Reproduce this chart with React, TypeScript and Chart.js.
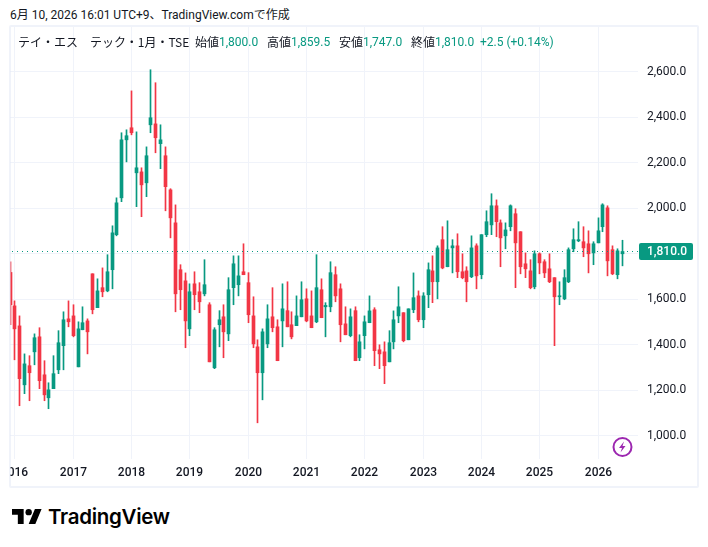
import React, { useEffect, useRef } from "react";
import { Chart, registerables } from "chart.js";

Chart.register(...registerables);

const opens = [1718,1571,1483,1224,1308,1369,1435,1268,1167,1207,1290,1396,1514,1527,1303,1466,1505,1712,1563,1651,1637,1730,1884,2046,2301,2354,2156,2160,2112,2367,2371,2284,2231,2081,1936,1730,1681,1470,1668,1633,1624,1576,1299,1488,1523,1448,1651,1664,1721,1673,1527,1391,1277,1404,1523,1479,1505,1550,1488,1484,1523,1602,1527,1501,1642,1567,1567,1708,1646,1492,1440,1550,1343,1440,1497,1554,1378,1369,1325,1413,1527,1541,1422,1554,1615,1510,1620,1725,1677,1862,1743,1826,1835,1721,1725,1699,1835,1708,1884,1927,2011,1936,1879,1919,1976,1897,1756,1725,1655,1800,1765,1734,1695,1611,1602,1677,1822,1857,1853,1844,1804,1848,1919,2002,1818,1708,1800];
const highs = [1765,1593,1527,1360,1352,1448,1475,1330,1233,1352,1462,1545,1593,1576,1501,1567,1514,1712,1690,1738,1796,1923,2046,2332,2345,2516,2336,2178,2270,2609,2552,2367,2270,2086,2015,1752,1716,1668,1721,1673,1774,1585,1475,1550,1576,1695,1791,1791,1844,1717,1611,1422,1470,1576,1651,1510,1668,1677,1545,1615,1677,1646,1637,1796,1690,1585,1765,1743,1668,1567,1558,1567,1444,1527,1615,1563,1400,1413,1462,1549,1655,1541,1558,1716,1637,1629,1760,1791,1835,1919,1945,1862,1888,1800,1743,1879,1844,1884,1989,2064,2037,1949,1936,2015,1998,1897,1804,1774,1813,1804,1774,1800,1695,1677,1730,1826,1910,1941,1919,1901,1853,1958,2020,2011,1835,1822,1859.5];
const lows = [1488,1334,1132,1185,1154,1312,1207,1154,1119,1207,1273,1290,1479,1435,1303,1466,1360,1536,1563,1611,1633,1646,1879,2029,2204,2323,2007,1963,2051,2332,2244,2174,1989,1870,1545,1554,1387,1440,1554,1541,1615,1325,1295,1391,1343,1418,1576,1615,1708,1497,1387,1057,1158,1387,1457,1330,1391,1479,1426,1484,1523,1501,1475,1497,1519,1435,1545,1589,1413,1444,1435,1330,1330,1382,1497,1308,1295,1229,1325,1382,1497,1413,1422,1541,1501,1475,1563,1585,1602,1734,1743,1716,1695,1690,1589,1695,1646,1690,1875,1884,1875,1743,1822,1901,1651,1712,1695,1646,1646,1712,1695,1673,1396,1576,1598,1673,1809,1853,1787,1716,1752,1848,1897,1703,1708,1690,1747];
const closes = [1576,1470,1251,1316,1277,1431,1242,1180,1202,1273,1409,1510,1501,1440,1470,1497,1457,1554,1637,1633,1721,1892,2024,2301,2319,2332,2178,2103,2231,2398,2310,2301,2095,1958,1624,1642,1505,1633,1620,1589,1664,1325,1466,1510,1457,1642,1756,1703,1708,1532,1404,1277,1457,1514,1475,1330,1558,1479,1435,1527,1598,1505,1475,1651,1519,1573,1717,1615,1488,1444,1523,1330,1413,1501,1549,1374,1360,1308,1409,1510,1567,1418,1558,1607,1510,1615,1730,1677,1826,1738,1818,1835,1721,1695,1677,1826,1703,1884,1941,2011,1941,1870,1905,2011,1848,1743,1734,1651,1800,1760,1716,1677,1611,1615,1695,1818,1862,1862,1826,1800,1844,1901,2015,1769,1712,1813,1810];

const firstIndex = -1; // Dec 2015, one month before the first labelled year
const yearLabels = ["2016","2017","2018","2019","2020","2021","2022","2023","2024","2025","2026"];
const priceTicks = [1000,1200,1400,1600,1800,2000,2200,2400,2600];

const UP = "#089981";
const DOWN = "#F23645";
const GRID = "#f0f3fa";
const INK = "#131722";
const LAST = closes[closes.length - 1];
const FONT = 'Roboto, "Noto Sans CJK JP", sans-serif';
const JP = '"Noto Sans CJK JP", Roboto, sans-serif';

const fmt = (v: number) => v.toLocaleString("en-US", { minimumFractionDigits: 1, maximumFractionDigits: 1 });

const snapX = (scale: any) => {
  if (scale.__snapped) return;
  scale.__snapped = true;
  const orig = scale.getPixelForValue.bind(scale);
  scale.getPixelForValue = (v: number, i?: number) => Math.floor(orig(v, i) + 0.6) + 0.5;
};

const lastPricePlugin = {
  id: "lastPrice",
  afterDraw(chart: any) {
    const { ctx, chartArea, scales } = chart;
    const y = Math.floor(scales.y.getPixelForValue(LAST)) + 0.5;
    ctx.save();
    ctx.strokeStyle = UP;
    ctx.lineWidth = 1;
    ctx.setLineDash([1, 4]);
    ctx.beginPath();
    ctx.moveTo(chartArea.left + 2, y);
    ctx.lineTo(chartArea.right, y);
    ctx.stroke();
    ctx.setLineDash([]);
    const bx = chartArea.right + 1;
    const bw = 54;
    const bh = 17;
    ctx.fillStyle = UP;
    ctx.beginPath();
    ctx.roundRect(bx, y - 8.5, bw, bh, 2);
    ctx.fill();
    ctx.fillStyle = "#ffffff";
    ctx.font = `500 12px ${FONT}`;
    ctx.textBaseline = "middle";
    ctx.textAlign = "left";
    ctx.fillText(fmt(LAST), bx + 8, y + 0.5);
    ctx.restore();
  },
};

const legend: [string, number, string][] = [
  ["始値", 195, INK], [fmt(opens[opens.length - 1]), 219, UP],
  ["高値", 267, INK], [fmt(highs[highs.length - 1]), 291, UP],
  ["安値", 339, INK], [fmt(lows[lows.length - 1]), 363, UP],
  ["終値", 411, INK], [fmt(LAST), 435, UP],
  ["+2.5 (+0.14%)", 480, UP],
];

export default function App() {
  const ref = useRef<HTMLCanvasElement>(null);
  useEffect(() => {
    const xs = opens.map((_, i) => i + firstIndex);
    const chart = new Chart(ref.current!, {
      type: "bar",
      data: {
        datasets: [
          {
            label: "body",
            data: xs.map((x, i) => ({ x, y: [opens[i], closes[i]] })) as any,
            barThickness: 3,
            backgroundColor: xs.map((_, i) => (closes[i] >= opens[i] ? UP : DOWN)),
            grouped: false,
            minBarLength: 1,
          } as any,
          {
            label: "wick",
            data: xs.map((x, i) => ({ x, y: [lows[i], highs[i]] })) as any,
            barThickness: 1,
            backgroundColor: xs.map((_, i) => (closes[i] >= opens[i] ? UP : DOWN)),
            grouped: false,
          } as any,
        ],
      },
      options: {
        animation: false,
        responsive: false,
        devicePixelRatio: 1,
        layout: { padding: 0 },
        plugins: { legend: { display: false }, tooltip: { enabled: false } },
        scales: {
          x: {
            type: "linear",
            offset: false,
            min: -0.885,
            max: 128.33,
            afterDataLimits: snapX,
            afterBuildTicks(scale: any) {
              scale.ticks = yearLabels.map((_, k) => ({ value: k * 12 }));
            },
            afterFit(scale: any) {
              scale.height = 27;
              scale.paddingLeft = 0;
              scale.paddingRight = 0;
            },
            grid: { color: GRID, lineWidth: 1, drawTicks: false, offset: false },
            border: { display: false },
            ticks: {
              autoSkip: false,
              maxRotation: 0,
              padding: 7,
              color: INK,
              font: { family: FONT, size: 12, weight: 500 },
              callback: (v: any) => yearLabels[Math.round(Number(v) / 12)],
            },
          },
          y: {
            type: "linear",
            position: "right",
            min: 897.9,
            max: 2796.9,
            afterBuildTicks(scale: any) {
              scale.ticks = priceTicks.map((value) => ({ value }));
            },
            afterFit(scale: any) {
              scale.width = 59;
              scale.paddingTop = 0;
              scale.paddingBottom = 0;
            },
            grid: { color: GRID, lineWidth: 1, drawTicks: false },
            border: { display: false },
            ticks: {
              autoSkip: false,
              padding: 9,
              color: INK,
              font: { family: FONT, size: 12 },
              callback: (v: any) => (Number(v) === 1800 ? "" : fmt(Number(v))),
            },
          },
        },
      } as any,
      plugins: [lastPricePlugin],
    });
    return () => chart.destroy();
  }, []);

  const text = (x: number, y: number, s: string, color: string, family = JP, size = 12) => (
    <span key={s + x} style={{ position: "absolute", left: x, top: y, color, fontFamily: family, fontSize: size, lineHeight: "16px", whiteSpace: "pre" }}>{s}</span>
  );

  return (
    <div style={{ position: "absolute", left: 0, top: 0, width: 708, height: 547, background: "#fff", overflow: "hidden" }}>
      {text(10, 7, "6月 10, 2026 16:01 UTC+9、TradingView.comで作成", INK, FONT, 12)}
      <canvas ref={ref} width={687} height={459} style={{ position: "absolute", left: 10, top: 27, display: "block" }} />
      <div style={{ position: "absolute", left: 9, top: 25, width: 686, height: 459, border: "2px solid rgba(225,231,245,0.5)", borderRadius: 2 }} />
      {text(18, 34, "テイ・エス　テック・1月・TSE", INK)}
      {legend.map(([s, x, c]) => text(x, 34, s, c, /[始高安終]/.test(s) ? JP : FONT))}
      <svg style={{ position: "absolute", left: 611, top: 436 }} width={24} height={24} viewBox="0 0 24 24">
        <circle cx={11.5} cy={11} r={9} fill="#fff" stroke="#9c27b0" strokeWidth={2} />
        <path d="M13 5.5 8 12h3l-1.5 4.5 5-6.5h-3z" fill="#9c27b0" />
      </svg>
      <svg style={{ position: "absolute", left: 12, top: 509 }} width={30} height={15} viewBox="0 0 36 18">
        <path d="M14 18H7V7H0V0h14zM28 18h-8L27.5 0h8z" fill="#000" />
        <circle cx={20} cy={3.8} r={3.8} fill="#000" />
      </svg>
      <span style={{ position: "absolute", left: 48, top: 504, fontFamily: "Inter, Roboto, sans-serif", fontWeight: 600, fontSize: 20.5, lineHeight: "26px", color: "#000", letterSpacing: "-0.3px" }}>TradingView</span>
    </div>
  );
}
